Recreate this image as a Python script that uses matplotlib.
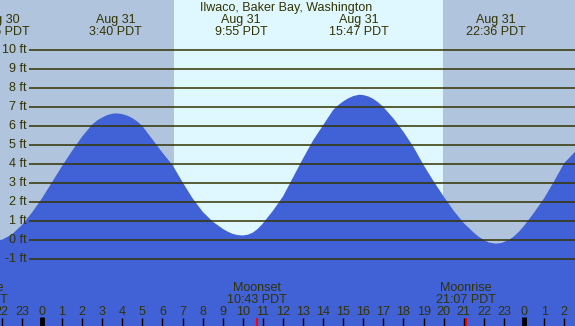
import matplotlib.pyplot as plt
import numpy as np

plt.rcParams['font.family'] = ['Liberation Sans', 'DejaVu Sans']

# tide height (ft), hours from midnight Aug 31 (PDT)
hours = [-2.5, -2.0, -1.5, -1.0, -0.5, 0.0, 0.5, 1.0, 1.5, 2.0, 2.5, 2.75, 3.0, 3.25,
         3.5, 3.73, 4.0, 4.25, 4.5, 4.75, 5.0, 5.5, 6.0, 6.5, 7.0, 7.5, 8.0, 8.5,
         9.0, 9.25, 9.5, 9.75, 10.0, 10.25, 10.5, 10.75, 11.0, 11.5, 12.0, 12.5,
         13.0, 13.5, 14.0, 14.5, 14.75, 15.0, 15.25, 15.5, 15.8, 16.0, 16.25, 16.5,
         16.75, 17.0, 17.5, 18.0, 18.5, 19.0, 19.5, 20.0, 20.5, 21.0, 21.5, 21.75,
         22.0, 22.25, 22.6, 22.9, 23.25, 23.5, 23.75, 24.0, 24.5, 25.0, 25.5, 26.0,
         26.5, 27.0]
height = [0.04, 0.02, 0.3, 0.8, 1.45, 2.2, 3.05, 3.9, 4.7, 5.45, 6.08, 6.3, 6.45, 6.58,
          6.65, 6.67, 6.63, 6.55, 6.42, 6.24, 6.0, 5.3, 4.6, 3.95, 3.05, 2.2, 1.5, 0.98,
          0.6, 0.45, 0.33, 0.27, 0.25, 0.29, 0.4, 0.6, 0.88, 1.55, 2.3, 3.3,
          4.3, 5.25, 6.05, 6.85, 7.1, 7.3, 7.46, 7.58, 7.65, 7.63, 7.56, 7.43,
          7.24, 7.0, 6.4, 5.7, 4.9, 3.95, 3.1, 2.3, 1.55, 0.9, 0.4, 0.18,
          0.02, -0.12, -0.18, -0.14, 0.02, 0.2, 0.45, 0.75, 1.45, 2.2, 3.1, 4.05,
          4.6, 5.3]

# tide extremes labelled at top
ext_hours = [-2.08, 3.67, 9.92, 15.78, 22.6]
ext_days = ['Aug 30', 'Aug 31', 'Aug 31', 'Aug 31', 'Aug 31']
ext_times = ['21:55 PDT', '3:40 PDT', '9:55 PDT', '15:47 PDT', '22:36 PDT']

# moon events
moon_hours = [-3.2, 10.72, 21.12]
moon_names = ['Moonrise', 'Moonset', 'Moonrise']
moon_times = ['20:48 PDT', '10:43 PDT', '21:07 PDT']

sunrise, sunset = 6.57, 19.97
ft_levels = list(range(-1, 11))
hour_ticks = list(range(-2, 27))

night = '#b0c4de'
day = '#dff8ff'
water = '#4161d6'
ink = '#333300'

fig = plt.figure(figsize=(5.75, 3.26), dpi=100)
ax = fig.add_axes([0, 0, 1, 1])
x0, x1 = -2.09, 26.54
y0, y1 = -4.51, 12.63
ax.set_xlim(x0, x1)
ax.set_ylim(y0, y1)
ax.axis('off')

ax.axvspan(x0, sunrise, color=night, lw=0)
ax.axvspan(sunrise, sunset, color=day, lw=0)
ax.axvspan(sunset, x1, color=night, lw=0)

ax.fill_between(hours, y0 - 1, height, color=water, lw=0, zorder=2)

trans = ax.get_xaxis_transform()
H = 326.0

# horizontal ft lines
for lv in ft_levels:
    ax.plot([(29 - 42) / 20.08, x1], [lv, lv], color=ink, lw=1.1, zorder=3,
            solid_capstyle='butt')
    ax.text((27 - 42) / 20.08, lv, '%d ft' % lv, ha='right', va='center',
            fontsize=9, color=ink, zorder=4)

# top labels
ax.text((x0 + x1) / 2 - 0.05, 1 - 8 / H, 'Ilwaco, Baker Bay, Washington', transform=trans,
        ha='center', va='center', fontsize=9, color=ink)
for h, d, t in zip(ext_hours, ext_days, ext_times):
    ax.text(h, 1 - 20 / H, d, transform=trans, ha='center', va='center',
            fontsize=9, color=ink)
    ax.text(h, 1 - 32 / H, t, transform=trans, ha='center', va='center',
            fontsize=9, color=ink)

# moon labels
for h, n, t in zip(moon_hours, moon_names, moon_times):
    ax.text(h, 1 - 288 / H, n, transform=trans, ha='center', va='center',
            fontsize=9, color=ink)
    ax.text(h, 1 - 300 / H, t, transform=trans, ha='center', va='center',
            fontsize=9, color=ink)
    ax.vlines(h, 0, 8 / H, transform=trans, color='red', lw=1.5, zorder=5)

# hour ticks
for h in hour_ticks:
    ax.text(h, 1 - 312 / H, str(h % 24), transform=trans, ha='center', va='center',
            fontsize=9, color=ink)
    if h % 24 == 0:
        ax.vlines(h, 0, 9 / H, transform=trans, color='black', lw=3.5, zorder=5)
    else:
        ax.vlines(h, 0, 8 / H, transform=trans, color='black', lw=1, zorder=5)

fig.savefig('out.png', dpi=100)
